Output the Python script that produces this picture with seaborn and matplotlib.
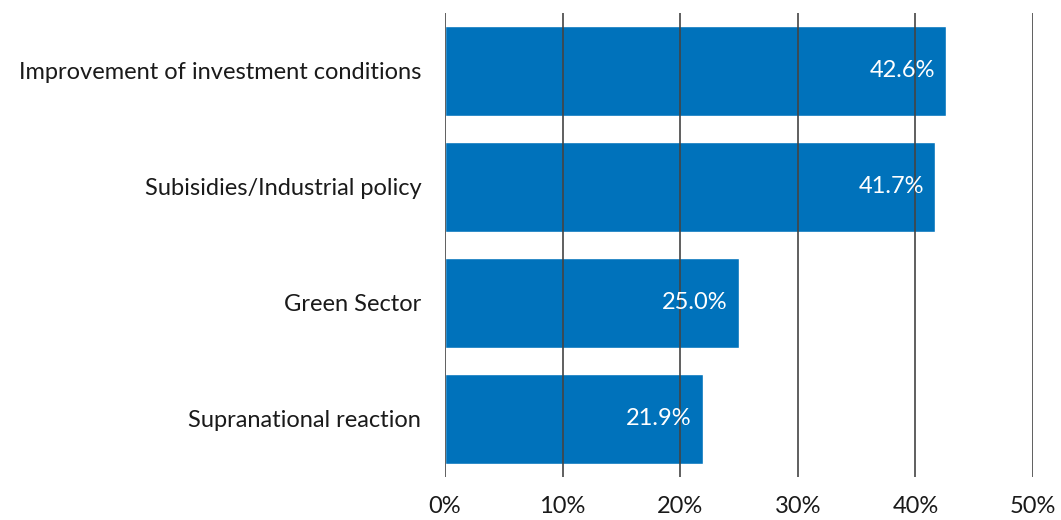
import pandas as pd
import seaborn as sns
import matplotlib.pyplot as plt

# 데이터
categories = ['Improvement of investment conditions', 'Subisidies/Industrial policy',
              'Green Sector', 'Supranational reaction']
values = [42.6, 41.7, 25.0, 21.9]
x_ticks = [0, 10, 20, 30, 40, 50]

df = pd.DataFrame({'category': categories, 'value': values})

sns.set_style('white')
plt.rcParams['font.family'] = ['Lato', 'DejaVu Sans']

fig = plt.figure(figsize=(10.61, 5.2), dpi=100)
ax = fig.add_axes([0.4194, 0.0827, 0.5542, 0.8923])

sns.barplot(data=df, x='value', y='category', color='#0072BB', saturation=1,
            width=0.77, ax=ax)

ax.set_xlim(0, 50)
ax.set_ylim(3.5, -0.5)
ax.set_xticks(x_ticks)
ax.set_xticklabels([f'{t}%' for t in x_ticks])
ax.xaxis.grid(True, color='#444444', linewidth=1.2)
ax.set_axisbelow(False)
for b in ax.patches:
    b.set_zorder(1)
ax.tick_params(axis='both', length=0, labelsize=17, colors='#1a1a1a')
ax.tick_params(axis='x', pad=14)
ax.tick_params(axis='y', pad=17)
ax.set_xlabel('')
ax.set_ylabel('')
for s in ax.spines.values():
    s.set_visible(False)

# 막대 끝에 값 표시
for i, v in enumerate(values):
    ax.annotate(f'{v:.1f}%', xy=(v, i), xytext=(-8, 0), textcoords='offset points',
                ha='right', va='center', color='white', fontsize=17)

plt.savefig('out.png', dpi=100)
